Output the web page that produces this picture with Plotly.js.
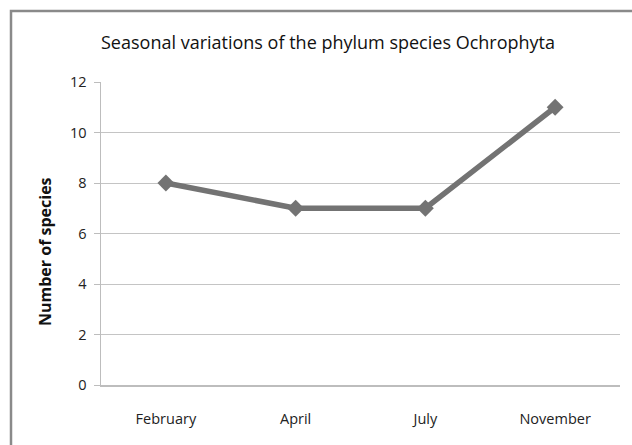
<!DOCTYPE html>
<html><head><meta charset="utf-8">
<script src="https://cdn.plot.ly/plotly-3.0.1.min.js"></script>
<style>html,body{margin:0;padding:0;background:#fff}#chart{width:632px;height:445px}</style>
</head><body><div id="chart"></div>
<script>
const months = ["February", "April", "July", "November"];
const speciesCount = [8, 7, 7, 11];
const yTicks = [0, 2, 4, 6, 8, 10, 12];

const trace = {
  x: months, y: speciesCount, type: "scatter", mode: "lines+markers",
  line: {color: "#737373", width: 5.5},
  marker: {symbol: "diamond", size: 13, color: "#737373"},
  hoverinfo: "none", showlegend: false
};
const layout = {
  width: 632, height: 445,
  margin: {l: 101, r: 12, t: 82, b: 60},
  paper_bgcolor: "#fff", plot_bgcolor: "#fff",
  font: {family: "Open Sans, sans-serif", color: "#222"},
  title: {text: "Seasonal variations of the phylum species Ochrophyta",
    font: {family: "Open Sans, sans-serif", size: 18, color: "#111", weight: 500},
    xref: "container", x: 328/632, xanchor: "center",
    yref: "container", y: 1 - 43/445, yanchor: "middle"},
  xaxis: {type: "category", range: [-0.5, 3.5], showgrid: false, zeroline: false,
    showline: true, linecolor: "#bdbdbd", linewidth: 1.5,
    ticks: "outside", ticklen: 20, tickcolor: "rgba(0,0,0,0)",
    tickfont: {size: 14.5, color: "#222"}},
  yaxis: {range: [0, 12], tickvals: yTicks, showgrid: true, gridcolor: "#c4c4c4", gridwidth: 1,
    zeroline: false, showline: true, linecolor: "#bdbdbd", linewidth: 1.5,
    ticks: "outside", ticklen: 6, tickcolor: "#bdbdbd", ticklabelstandoff: 4,
    tickfont: {size: 14.5, color: "#222"}},
  annotations: [{text: "<b>Number of species</b>", xref: "paper", yref: "paper",
    x: (45-101)/519, y: (385-252)/303, textangle: -90, showarrow: false,
    font: {size: 16, color: "#111"}, xanchor: "center", yanchor: "middle"}],
  shapes: [{type: "rect", xref: "paper", yref: "paper",
    x0: (11-101)/519, x1: 2, y0: -2, y1: (385-11)/303,
    line: {color: "#8a8a8a", width: 2.5}, layer: "below"}]
};
Plotly.newPlot("chart", [trace], layout, {displayModeBar: false, staticPlot: true});
</script></body></html>
